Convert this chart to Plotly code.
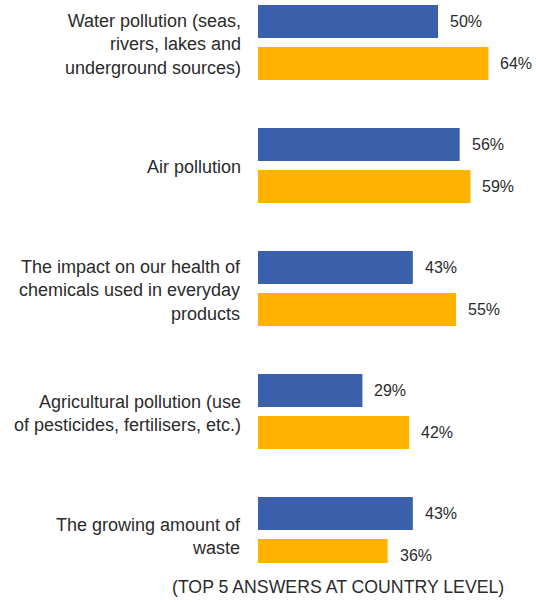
import plotly.graph_objects as go

# Survey answers: share of respondents per concern, two series
categories = [
    "Water pollution (seas,<br>rivers, lakes and<br>underground sources)",
    "Air pollution",
    "The impact on our health of<br>chemicals used in everyday<br>products",
    "Agricultural pollution (use<br>of pesticides, fertilisers, etc.)",
    "The growing amount of<br>waste",
]
series_blue = [50, 56, 43, 29, 43]
series_yellow = [64, 59, 55, 42, 36]
caption = "(TOP 5 ANSWERS AT COUNTRY LEVEL)"

FONT = "Liberation Sans Narrow, Arial Narrow, Liberation Sans, Arial, sans-serif"
BLUE = "#3A5FAB"
YELLOW = "#FFB300"
TEXT = "#2b2b2b"

keys = list(range(len(categories)))

fig = go.Figure()
fig.add_trace(go.Bar(y=keys, x=series_blue, orientation="h",
                     marker=dict(color=BLUE, line=dict(width=0)),
                     hoverinfo="x"))
fig.add_trace(go.Bar(y=keys, x=series_yellow, orientation="h",
                     marker=dict(color=YELLOW, line=dict(width=0)),
                     hoverinfo="x"))

# value labels placed just past the end of each bar
annotations = []
for i, (b, yv) in enumerate(zip(series_blue, series_yellow)):
    annotations.append(dict(x=b, y=i - 0.172, xref="x", yref="y", text=f"{b}%",
                            showarrow=False, xanchor="left", xshift=10,
                            font=dict(size=16, color=TEXT, family=FONT)))
    annotations.append(dict(x=yv, y=i + 0.172, xref="x", yref="y", text=f"{yv}%",
                            showarrow=False, xanchor="left", xshift=10,
                            font=dict(size=16, color=TEXT, family=FONT)))

# category labels, right-aligned to the left of the bars
for i, c in enumerate(categories):
    annotations.append(dict(x=0, y=i, xref="paper", yref="y", text=c,
                            showarrow=False, xanchor="right", align="right",
                            xshift=-15, yshift=-2,
                            font=dict(size=18, color=TEXT, family=FONT)))

annotations.append(dict(x=0.288, y=0, xref="paper", yref="paper", text=caption,
                        showarrow=False, xanchor="center", yanchor="top",
                        yshift=-12,
                        font=dict(size=17.7, color=TEXT, family=FONT)))

fig.update_layout(
    width=536, height=603,
    margin=dict(l=258, r=0, t=0, b=40),
    paper_bgcolor="white", plot_bgcolor="white",
    barmode="group", bargap=0.317, bargroupgap=0.214,
    showlegend=False,
    xaxis=dict(range=[0, 77.2], visible=False, fixedrange=True),
    yaxis=dict(range=[4.232, -0.3455], visible=False, fixedrange=True),
    annotations=annotations,
)

fig.write_html("out.html")
